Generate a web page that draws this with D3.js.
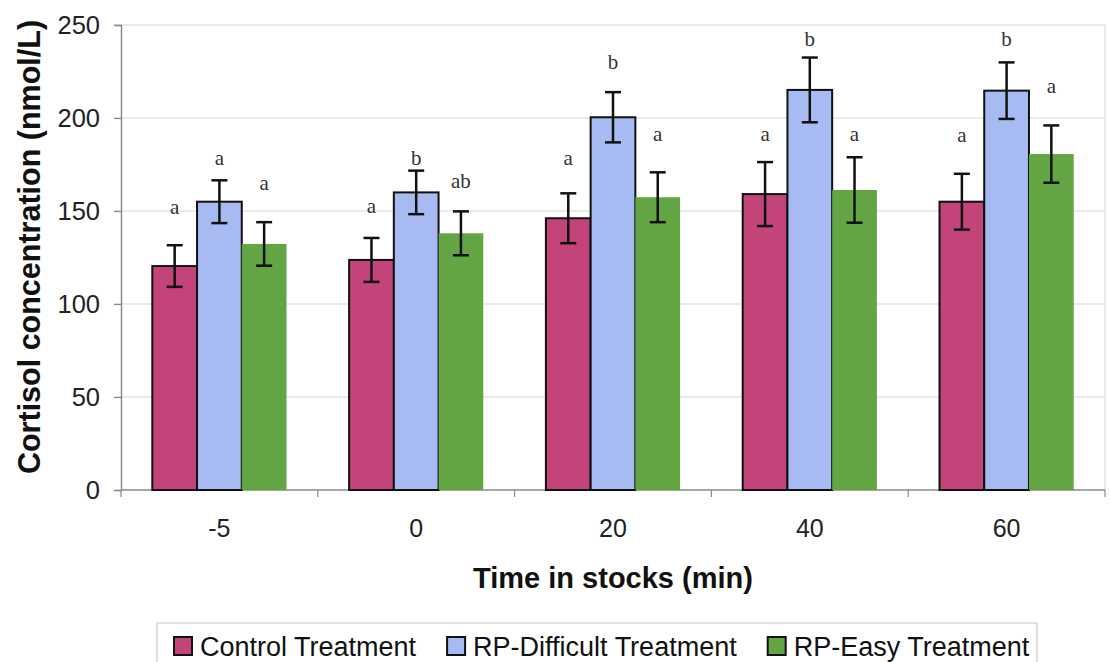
<!DOCTYPE html>
<html>
<head>
<meta charset="utf-8">
<script src="https://cdn.jsdelivr.net/npm/d3@7"></script>
<style>
  html, body { margin: 0; padding: 0; background: #fff; }
  svg { display: block; }
</style>
</head>
<body>
<svg id="chart" width="1110" height="662"></svg>
<script>
// Time points (min) and series
const timePoints = ["-5", "0", "20", "40", "60"];
const seriesNames = ["Control Treatment", "RP-Difficult Treatment", "RP-Easy Treatment"];

// Mean cortisol (nmol/L) per time point
const controlMean   = [120.4, 123.7, 146.1, 159.1, 155.0];
const difficultMean = [155.0, 160.0, 200.4, 215.1, 214.7];
const easyMean      = [132.3, 138.0, 157.4, 161.3, 180.6];

// Error (± nmol/L)
const controlErr   = [11.2, 11.8, 13.4, 17.2, 15.0];
const difficultErr = [11.5, 11.7, 13.5, 17.4, 15.2];
const easyErr      = [11.7, 11.8, 13.4, 17.6, 15.4];

// Significance letters and the level (nmol/L) each one sits at
const controlLetters   = ["a", "a", "a", "a", "a"];
const difficultLetters = ["a", "b", "b", "b", "b"];
const easyLetters      = ["a", "ab", "a", "a", "a"];
const controlLetterAt   = [148.4, 148.9, 174.7, 187.6, 187.1];
const difficultLetterAt = [174.7, 174.7, 226.3, 238.7, 238.7];
const easyLetterAt      = [161.3, 162.4, 187.6, 187.6, 213.4];

const yTicks = [0, 50, 100, 150, 200, 250];

const series = [
  { name: seriesNames[0], mean: controlMean,   err: controlErr,   letters: controlLetters,   letterAt: controlLetterAt,   fill: "#c2447b", stroke: "#111" },
  { name: seriesNames[1], mean: difficultMean, err: difficultErr, letters: difficultLetters, letterAt: difficultLetterAt, fill: "#a8baf2", stroke: "#111" },
  { name: seriesNames[2], mean: easyMean,      err: easyErr,      letters: easyLetters,      letterAt: easyLetterAt,      fill: "#63a443", stroke: "none" }
];

const svg = d3.select("#chart");
const plot = { left: 121, right: 1105, top: 25, bottom: 490 };

const x0 = d3.scaleBand().domain(timePoints).range([plot.left, plot.right]).padding(0);
const x1 = d3.scaleBand().domain(seriesNames).range([0, x0.bandwidth()]).paddingInner(0).paddingOuter(0.7);
const y = d3.scaleLinear().domain([0, 250]).range([plot.bottom, plot.top]);

// Gridlines
svg.append("g")
  .selectAll("line")
  .data(yTicks.filter(d => d > 0))
  .join("line")
  .attr("x1", plot.left - 7).attr("x2", plot.right)
  .attr("y1", d => y(d)).attr("y2", d => y(d))
  .attr("stroke", "#d6d6d6").attr("stroke-width", 1.2);

// Plot-area right edge
svg.append("line")
  .attr("x1", plot.right).attr("x2", plot.right)
  .attr("y1", plot.top).attr("y2", plot.bottom)
  .attr("stroke", "#dcdcdc").attr("stroke-width", 1.2);

// Y axis
const yAxis = svg.append("g")
  .attr("transform", `translate(${plot.left},0)`)
  .call(d3.axisLeft(y).tickValues(yTicks).tickSize(7).tickPadding(14).tickFormat(d3.format("d")));
yAxis.select(".domain").attr("stroke", "#8a8a8a").attr("stroke-width", 1.5);
yAxis.selectAll(".tick line").attr("stroke", "#8a8a8a").attr("stroke-width", 1.2);
yAxis.selectAll(".tick text")
  .attr("font-family", "Liberation Sans, Arial, sans-serif")
  .attr("font-size", 25.5).attr("fill", "#222");

// X axis: ticks at category boundaries, labels centered in each band
const xAxis = svg.append("g").attr("transform", `translate(0,${plot.bottom})`);
xAxis.append("line")
  .attr("x1", plot.left).attr("x2", plot.right)
  .attr("y1", 0).attr("y2", 0)
  .attr("stroke", "#8a8a8a").attr("stroke-width", 1.5);
const boundaries = timePoints.map(d => x0(d)).concat([x0(timePoints[timePoints.length - 1]) + x0.bandwidth()]);
xAxis.selectAll("line.tick")
  .data(boundaries)
  .join("line").attr("class", "tick")
  .attr("x1", d => d).attr("x2", d => d)
  .attr("y1", 0).attr("y2", 7)
  .attr("stroke", "#8a8a8a").attr("stroke-width", 1.2);
xAxis.selectAll("text")
  .data(timePoints)
  .join("text")
  .attr("x", d => x0(d) + x0.bandwidth() / 2)
  .attr("y", 47)
  .attr("text-anchor", "middle")
  .attr("font-family", "Liberation Sans, Arial, sans-serif")
  .attr("font-size", 25).attr("fill", "#222")
  .text(d => d);

// Bars
const groups = svg.append("g")
  .selectAll("g")
  .data(series)
  .join("g");

groups.selectAll("rect")
  .data(s => timePoints.map((t, i) => ({ t, v: s.mean[i], s })))
  .join("rect")
  .attr("x", d => x0(d.t) + x1(d.s.name))
  .attr("y", d => y(d.v))
  .attr("width", x1.bandwidth())
  .attr("height", d => y(0) - y(d.v))
  .attr("fill", d => d.s.fill)
  .attr("stroke", d => d.s.stroke)
  .attr("stroke-width", 2);

// Error bars
const capHalf = 8;
const eb = svg.append("g").attr("stroke", "#111").attr("stroke-width", 2.5).attr("fill", "none");
series.forEach(s => {
  timePoints.forEach((t, i) => {
    const cx = x0(t) + x1(s.name) + x1.bandwidth() / 2;
    const hi = y(s.mean[i] + s.err[i]);
    const lo = y(s.mean[i] - s.err[i]);
    eb.append("line").attr("x1", cx).attr("x2", cx).attr("y1", hi).attr("y2", lo);
    eb.append("line").attr("x1", cx - capHalf).attr("x2", cx + capHalf).attr("y1", hi).attr("y2", hi);
    eb.append("line").attr("x1", cx - capHalf).attr("x2", cx + capHalf).attr("y1", lo).attr("y2", lo);
  });
});

// Significance letters
const lettersG = svg.append("g")
  .attr("font-family", "Liberation Serif, Times New Roman, serif")
  .attr("font-size", 21).attr("fill", "#333").attr("text-anchor", "middle");
series.forEach(s => {
  timePoints.forEach((t, i) => {
    lettersG.append("text")
      .attr("x", x0(t) + x1(s.name) + x1.bandwidth() / 2)
      .attr("y", y(s.letterAt[i]))
      .text(s.letters[i]);
  });
});

// Axis titles
svg.append("text")
  .attr("x", (plot.left + plot.right) / 2)
  .attr("y", 588)
  .attr("text-anchor", "middle")
  .attr("font-family", "Liberation Sans, Arial, sans-serif")
  .attr("font-weight", "bold").attr("font-size", 29).attr("fill", "#111")
  .text("Time in stocks (min)");

svg.append("text")
  .attr("transform", `translate(40,247) rotate(-90)`)
  .attr("text-anchor", "middle")
  .attr("font-family", "Liberation Sans, Arial, sans-serif")
  .attr("font-weight", "bold").attr("font-size", 30.5).attr("fill", "#111")
  .text("Cortisol concentration (nmol/L)");

// Legend
const legend = svg.append("g");
legend.append("path")
  .attr("d", "M157,662 V623 H1037 V662")
  .attr("fill", "none").attr("stroke", "#c8c8c8").attr("stroke-width", 1.2);
let lx = 174;
series.forEach(s => {
  legend.append("rect")
    .attr("x", lx).attr("y", 637).attr("width", 18).attr("height", 18)
    .attr("fill", s.fill).attr("stroke", "#111").attr("stroke-width", 2);
  const txt = legend.append("text")
    .attr("x", lx + 26).attr("y", 656)
    .attr("font-family", "Liberation Sans, Arial, sans-serif")
    .attr("font-size", 27).attr("fill", "#111")
    .text(s.name);
  lx += 26 + txt.node().getComputedTextLength() + 31;
});
</script>
</body>
</html>
